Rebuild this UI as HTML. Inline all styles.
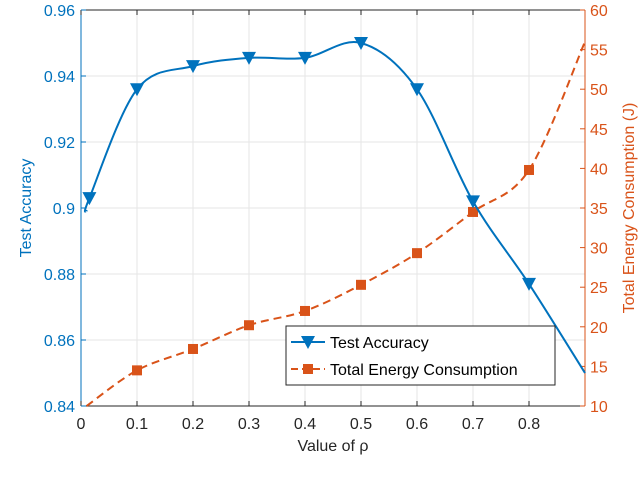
<!DOCTYPE html>
<html><head><meta charset="utf-8"><style>
body{margin:0;background:#fff;width:640px;height:490px;overflow:hidden}
svg text{font-family:"Liberation Sans",sans-serif}
</style></head><body>
<svg id="chart" width="640" height="490"></svg>
<script>
const xVals=[0.015,0.1,0.2,0.3,0.4,0.5,0.6,0.7,0.8,0.9];
const accuracy=[0.903,0.936,0.943,0.9455,0.9455,0.950,0.936,0.902,0.877,0.850];
const energyX=[0.01,0.1,0.2,0.3,0.4,0.5,0.6,0.7,0.8,0.9];
const energy=[10,14.5,17.2,20.2,22,25.3,29.3,34.5,39.8,56];
const xTicks=[0,0.1,0.2,0.3,0.4,0.5,0.6,0.7,0.8];
const yTicks=[0.84,0.86,0.88,0.9,0.92,0.94,0.96];
const yTickLabels=["0.84","0.86","0.88","0.9","0.92","0.94","0.96"];
const y2Ticks=[10,15,20,25,30,35,40,45,50,55,60];

const L=81,R=585,T=10,B=406;
const xs=v=>L+(v/0.9)*(R-L);
const ys=v=>B-(v-0.84)/0.12*(B-T);
const y2s=v=>B-(v-10)/50*(B-T);
const svg=document.getElementById('chart');
const NS='http://www.w3.org/2000/svg';
function mk(t,a,p){const e=document.createElementNS(NS,t);for(const k in a)e.setAttribute(k,a[k]);(p||svg).appendChild(e);return e;}
function spline(pts){let d=`M${pts[0][0]},${pts[0][1]}`;for(let i=0;i<pts.length-1;i++){const p0=pts[i-1]||pts[i],p1=pts[i],p2=pts[i+1],p3=pts[i+2]||p2;
d+=` C${p1[0]+(p2[0]-p0[0])/6},${p1[1]+(p2[1]-p0[1])/6} ${p2[0]-(p3[0]-p1[0])/6},${p2[1]-(p3[1]-p1[1])/6} ${p2[0]},${p2[1]}`;}return d;}

// grid
xTicks.forEach(t=>{const g=mk('line',{x1:xs(t),x2:xs(t),y1:T,y2:B,stroke:'#e6e6e6','stroke-width':1});
});
yTicks.forEach(t=>{const g=mk('line',{x1:L,x2:R,y1:ys(t),y2:ys(t),stroke:'#e6e6e6','stroke-width':1});
});

// axes
const bx=mk('line',{x1:L,x2:R,y1:B,y2:B,stroke:'#262626'});
const tx=mk('line',{x1:L,x2:R,y1:T,y2:T,stroke:'#262626'});
const ly=mk('line',{x1:L,x2:L,y1:T,y2:B,stroke:'#0072BD'});
const ry=mk('line',{x1:R,x2:R,y1:T,y2:B,stroke:'#D95319'});

xTicks.forEach(t=>{mk('line',{x1:xs(t),x2:xs(t),y1:B,y2:B-5,stroke:'#262626'});mk('line',{x1:xs(t),x2:xs(t),y1:T,y2:T+5,stroke:'#262626'});
const e=mk('text',{x:xs(t),y:B+23,'text-anchor':'middle','font-size':16,fill:'#262626'});e.textContent=String(t);
});
yTicks.forEach((t,i)=>{mk('line',{x1:L,x2:L+5,y1:ys(t),y2:ys(t),stroke:'#0072BD'});
const e=mk('text',{x:L-6,y:ys(t)+6,'text-anchor':'end','font-size':16,fill:'#0072BD'});e.textContent=yTickLabels[i];
});
y2Ticks.forEach(t=>{mk('line',{x1:R,x2:R-5,y1:y2s(t),y2:y2s(t),stroke:'#D95319'});
const e=mk('text',{x:R+5,y:y2s(t)+6,'font-size':16,fill:'#D95319'});e.textContent=String(t);
});

// series
const ePts=energyX.map((x,i)=>[xs(x),y2s(energy[i])]);
const ep=mk('path',{d:spline(ePts),fill:'none',stroke:'#D95319','stroke-width':2,'stroke-dasharray':'8,5'});

ePts.slice(1,9).forEach(p=>{const m=mk('rect',{x:p[0]-5,y:p[1]-5,width:10,height:10,fill:'#D95319'});
});

const aPts=xVals.map((x,i)=>[xs(x),ys(accuracy[i])]);
const aLine=[[xs(0.01),ys(0.899)]].concat(aPts);
const ap=mk('path',{d:spline(aLine),fill:'none',stroke:'#0072BD','stroke-width':2});

aPts.slice(0,9).forEach(p=>{const m=mk('path',{d:`M${p[0]-7},${p[1]-6} L${p[0]+7},${p[1]-6} L${p[0]},${p[1]+7} Z`,fill:'#0072BD'});
});

// labels
const xl=mk('text',{x:333,y:451,'text-anchor':'middle','font-size':16,fill:'#262626'});xl.textContent='Value of ρ';

const yl=mk('text',{x:0,y:0,transform:'translate(31,208) rotate(-90)','text-anchor':'middle','font-size':16,fill:'#0072BD'});yl.textContent='Test Accuracy';

const y2l=mk('text',{x:0,y:0,transform:'translate(634,208) rotate(-90)','text-anchor':'middle','font-size':16,fill:'#D95319'});y2l.textContent='Total Energy Consumption (J)';


// legend
const lg=mk('g',{});
mk('rect',{x:286,y:326,width:269,height:59,fill:'#fff',stroke:'#262626'},lg);
mk('line',{x1:291,x2:325,y1:342,y2:342,stroke:'#0072BD','stroke-width':2},lg);
mk('path',{d:'M301,336 L315,336 L308,349 Z',fill:'#0072BD'},lg);
const t1=mk('text',{x:330,y:348,'font-size':16,fill:'#000'},lg);t1.textContent='Test Accuracy';

mk('line',{x1:291,x2:325,y1:369,y2:369,stroke:'#D95319','stroke-width':2,'stroke-dasharray':'7,4'},lg);
mk('rect',{x:303,y:364,width:10,height:10,fill:'#D95319'},lg);
const t2=mk('text',{x:330,y:375,'font-size':16,fill:'#000'},lg);t2.textContent='Total Energy Consumption';

</script>
</body></html>
